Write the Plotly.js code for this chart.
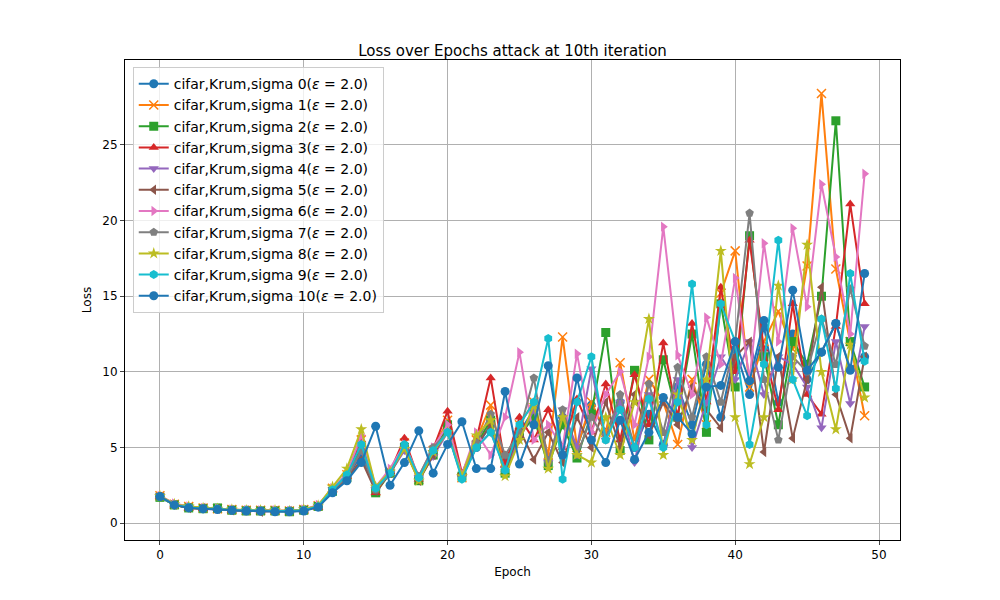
<!DOCTYPE html>
<html>
<head>
<script src="https://cdn.plot.ly/plotly-3.0.1.min.js"></script>
<style>body{margin:0}</style>
</head>
<body>
<div id="chart" style="width:1000px;height:600px"></div>
<script>
var epochs = Array.from({length: 50}, (_, i) => i)

var loss0 = [1.75,1.2,1.05,0.95,0.95,0.85,0.85,0.8,0.8,0.8,0.85,1.1,2.2,3.0,4.5,2.3,3.3,4.9,3.0,4.6,6.3,3.2,5.0,6.5,4.0,6.0,7.5,4.2,7.0,5.0,7.8,6.0,8.0,5.0,7.2,5.2,9.0,6.5,10.5,7.0,11.5,8.5,13.0,8.0,12.5,9.5,11.3,13.2,10.2,11.0]
var loss1 = [1.8,1.25,1.1,1.0,0.95,0.9,0.85,0.85,0.85,0.8,0.9,1.15,2.3,3.2,5.5,2.1,3.4,5.3,2.9,4.8,6.8,3.0,5.5,7.8,3.5,6.5,8.0,4.5,12.3,5.0,8.0,6.0,10.6,5.5,9.5,8.0,5.2,9.5,6.5,15.2,18.0,9.0,12.0,14.0,11.5,17.0,28.4,16.8,12.0,7.1]
var loss2 = [1.7,1.2,1.0,0.95,1.0,0.85,0.8,0.8,0.8,0.75,0.85,1.1,2.1,3.0,5.0,2.0,3.3,5.0,2.8,4.5,6.5,3.1,5.2,6.8,3.3,5.8,7.0,3.8,6.5,4.3,7.2,12.6,4.8,10.1,5.5,10.8,7.0,12.5,6.0,14.5,9.0,19.0,11.0,6.5,12.0,10.5,15.0,26.6,12.0,9.0]
var loss3 = [1.75,1.2,1.0,0.95,0.95,0.85,0.85,0.8,0.8,0.8,0.85,1.05,2.2,3.1,5.5,2.0,3.4,5.6,2.9,4.9,7.4,3.3,5.5,9.6,3.8,7.0,5.5,7.5,5.0,8.2,6.0,9.2,5.5,9.8,6.5,11.9,7.0,13.2,8.0,15.6,10.0,18.7,11.5,7.5,14.5,8.5,7.2,13.0,21.1,14.5]
var loss4 = [1.8,1.2,1.05,0.95,0.9,0.85,0.8,0.8,0.8,0.8,0.9,1.1,2.2,3.0,4.8,2.2,3.3,4.8,3.0,4.4,6.0,3.0,5.0,6.0,3.6,5.5,7.5,4.0,7.5,5.0,10.2,5.5,8.0,4.0,8.5,5.0,9.5,5.0,8.0,11.0,9.5,12.0,8.5,11.0,10.5,9.0,6.3,12.0,7.9,13.0]
var loss5 = [1.75,1.2,1.0,1.0,0.95,0.85,0.85,0.75,0.8,0.8,0.85,1.1,2.1,2.9,4.2,2.1,3.3,5.0,2.8,4.5,6.2,3.1,5.1,6.5,3.4,6.2,4.2,6.0,4.0,7.0,5.0,8.0,5.0,8.5,5.8,8.0,6.5,9.0,7.5,6.3,11.0,12.0,4.7,11.0,5.6,9.5,15.6,8.5,5.6,11.0]
var loss6 = [1.8,1.3,1.1,1.0,0.95,0.9,0.85,0.85,0.85,0.8,0.9,1.2,2.3,3.3,5.8,2.4,3.6,5.2,3.1,5.0,6.5,3.2,6.0,4.5,7.0,11.3,5.5,6.5,5.0,11.2,6.0,8.5,10.0,6.5,11.0,19.6,11.1,8.5,13.6,10.5,16.2,9.5,18.5,12.0,19.5,14.3,22.4,17.6,12.5,23.1]
var loss7 = [1.75,1.2,1.05,1.0,0.95,0.85,0.85,0.8,0.8,0.8,0.85,1.1,2.2,3.0,4.8,2.2,3.3,5.0,3.1,5.0,6.0,3.1,5.3,7.2,4.5,6.0,9.6,4.0,7.5,4.5,7.0,5.5,8.5,5.0,9.2,6.0,10.3,7.0,11.0,8.0,12.0,20.5,9.5,5.5,11.0,10.0,13.5,10.5,15.5,11.7]
var loss8 = [1.8,1.25,1.1,1.0,0.95,0.9,0.85,0.85,0.85,0.8,0.9,1.15,2.4,3.6,6.2,2.4,3.4,4.9,2.8,4.7,6.0,3.1,5.8,6.8,3.1,5.5,7.8,3.6,7.0,4.5,4.0,7.0,4.5,8.0,13.5,4.5,8.5,5.5,9.5,18.0,7.0,3.9,7.0,15.7,9.5,18.4,10.0,6.2,11.8,8.3]
var loss9 = [1.75,1.2,1.05,0.95,0.95,0.85,0.85,0.8,0.8,0.8,0.85,1.1,2.2,3.2,5.2,2.3,3.3,5.2,3.0,4.8,6.0,2.9,5.0,6.0,3.5,6.5,8.0,12.2,2.9,8.0,11.0,5.5,7.5,5.0,8.2,5.0,8.0,15.8,6.5,14.5,12.0,5.2,10.5,18.7,9.5,7.1,13.5,8.9,16.5,10.7]
var loss10 = [1.75,1.2,1.0,0.95,0.9,0.85,0.8,0.8,0.75,0.75,0.8,1.05,2.0,2.8,4.0,6.4,2.5,4.0,6.1,3.3,5.2,6.7,3.6,3.6,8.7,3.9,6.5,10.4,4.5,9.6,5.5,4.0,6.8,4.2,6.0,8.3,7.0,5.9,9.0,9.1,12.0,9.4,13.4,10.3,15.4,10.1,11.3,13.2,10.1,16.5]

var series = [loss0, loss1, loss2, loss3, loss4, loss5, loss6, loss7, loss8, loss9, loss10]
var colors = ['#1f77b4','#ff7f0e','#2ca02c','#d62728','#9467bd','#8c564b','#e377c2','#7f7f7f','#bcbd22','#17becf','#1f77b4']
var symbols = ['circle','x-thin','square','triangle-up','triangle-down','triangle-left','triangle-right','pentagon','star','hexagon','circle']

var data = series.map((ys, i) => ({
  x: epochs,
  y: ys,
  type: 'scatter',
  mode: 'lines+markers',
  name: 'cifar,Krum,sigma ' + i + '(<i>ε</i> = 2.0)',
  line: {color: colors[i], width: 2},
  marker: {
    color: colors[i],
    symbol: symbols[i],
    size: 9,
    line: {color: colors[i], width: symbols[i] == 'x-thin' ? 1.5 : 0}
  }
}))

var layout = {
  width: 1000,
  height: 600,
  margin: {l: 125, r: 100, t: 60, b: 60},
  paper_bgcolor: 'white',
  plot_bgcolor: 'white',
  font: {family: 'DejaVu Sans', size: 12, color: 'black'},
  title: {text: 'Loss over Epochs attack at 10th iteration', x: 0.5125, y: 0.925, font: {size: 15}},
  xaxis: {
    title: {text: 'Epoch', standoff: 6, font: {size: 12}},
    range: [-2.43, 51.46],
    tickvals: [0, 10, 20, 30, 40, 50],
    tickfont: {size: 12},
    showgrid: true, gridcolor: '#b0b0b0', zeroline: false,
    showline: true, mirror: true, linecolor: 'black',
    ticks: 'outside', ticklen: 4
  },
  yaxis: {
    title: {text: 'Loss', standoff: 8, font: {size: 12}},
    range: [-1.12, 30.62],
    tickvals: [0, 5, 10, 15, 20, 25],
    tickfont: {size: 12},
    showgrid: true, gridcolor: '#b0b0b0', zeroline: false,
    showline: true, mirror: true, linecolor: 'black',
    ticks: 'outside', ticklen: 4
  },
  legend: {
    x: 0.01, y: 0.985, xanchor: 'left', yanchor: 'top',
    bgcolor: 'rgba(255,255,255,0.8)', bordercolor: '#cccccc', borderwidth: 1,
    font: {size: 14}, tracegroupgap: 0
  },
  showlegend: true
}

Plotly.newPlot('chart', data, layout, {displayModeBar: false})
</script>
</body>
</html>
